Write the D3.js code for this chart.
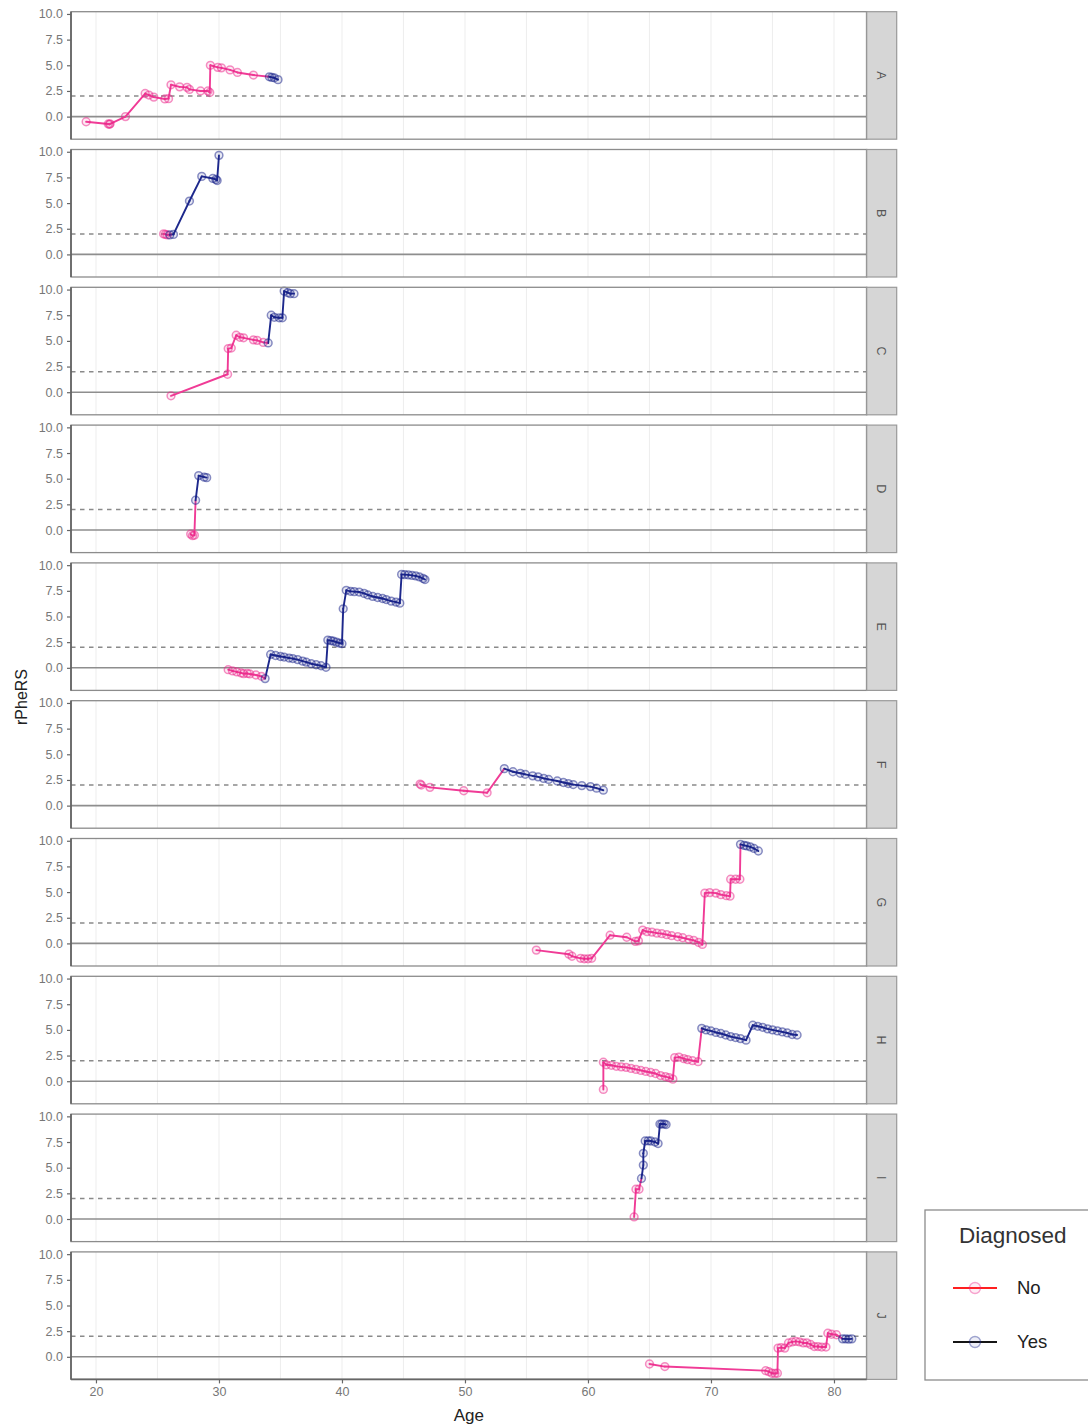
<!DOCTYPE html>
<html>
<head>
<meta charset="utf-8">
<script src="https://cdn.jsdelivr.net/npm/d3@7"></script>
<style>
  body { margin: 0; background: #fff; }
  svg { display: block; font-family: "Liberation Sans", Arial, Helvetica, sans-serif; }
</style>
</head>
<body>
<svg id="chart" width="1088" height="1427"></svg>
<script>
// Facet labels, legend levels and axis ticks
const patients = ["A", "B", "C", "D", "E", "F", "G", "H", "I", "J"];
const statusLevels = ["No", "Yes"];
const xTicks = [20, 30, 40, 50, 60, 70, 80];
const xGrid = [20, 25, 30, 35, 40, 45, 50, 55, 60, 65, 70, 75, 80];
const yTicks = [0, 2.5, 5, 7.5, 10];
const baselineValue = 0;
const thresholdValue = 2;

// Trajectories: [age, rPheRS, diagnosed (0 = No, 1 = Yes)]
const patientA = [
  [19.2,-0.5,0],[21.0,-0.72,0],[21.1,-0.75,0],[21.15,-0.7,0],[22.4,0.0,0],[24.0,2.25,0],[24.3,2.1,0],
  [24.7,1.9,0],[25.6,1.72,0],[25.9,1.75,0],[26.1,3.1,0],[26.8,2.9,0],[27.4,2.85,0],[27.6,2.65,0],
  [28.5,2.5,0],[29.1,2.5,0],[29.25,2.35,0],[29.3,5.0,0],[29.9,4.8,0],[30.2,4.75,0],[30.9,4.55,0],
  [31.5,4.3,0],[32.8,4.05,0],[34.1,3.88,1],[34.3,3.82,1],[34.5,3.78,1],[34.8,3.6,1]
];
const patientB = [
  [25.5,2.0,0],[25.65,1.95,0],[25.8,1.9,0],[26.0,1.9,1],[26.3,1.95,1],[27.6,5.2,1],[28.6,7.6,1],
  [29.5,7.4,1],[29.75,7.3,1],[29.85,7.2,1],[30.0,9.65,1]
];
const patientC = [
  [26.1,-0.35,0],[30.7,1.75,0],[30.75,4.25,0],[31.0,4.3,0],[31.4,5.55,0],[31.7,5.35,0],[32.0,5.3,0],
  [32.8,5.1,0],[33.1,5.05,0],[33.6,4.85,0],[34.0,4.8,1],[34.25,7.5,1],[34.5,7.3,1],[34.9,7.25,1],
  [35.15,7.25,1],[35.3,9.85,1],[35.6,9.7,1],[35.8,9.6,1],[36.1,9.6,1]
];
const patientD = [
  [27.7,-0.4,0],[27.85,-0.55,0],[28.0,-0.5,0],[28.1,2.9,1],[28.35,5.3,1],[28.8,5.15,1],[29.0,5.1,1]
];
const patientE = [
  [30.75,-0.18,0],[31.1,-0.3,0],[31.45,-0.4,0],[31.8,-0.5,0],[32.0,-0.57,0],[32.3,-0.55,0],[32.5,-0.6,0],
  [33.0,-0.7,0],[33.45,-0.83,0],[33.75,-1.05,1],[34.2,1.3,1],[34.6,1.2,1],[35.0,1.1,1],[35.3,1.05,1],
  [35.7,0.95,1],[36.0,0.9,1],[36.4,0.8,1],[36.8,0.65,1],[37.1,0.55,1],[37.5,0.4,1],[37.9,0.3,1],
  [38.3,0.2,1],[38.7,0.05,1],[38.85,2.7,1],[39.1,2.65,1],[39.3,2.6,1],[39.55,2.5,1],[39.8,2.4,1],
  [40.0,2.35,1],[40.1,5.75,1],[40.35,7.55,1],[40.7,7.45,1],[41.0,7.42,1],[41.4,7.38,1],[41.8,7.25,1],
  [42.1,7.1,1],[42.5,6.95,1],[42.9,6.85,1],[43.3,6.75,1],[43.6,6.65,1],[44.0,6.5,1],[44.4,6.4,1],
  [44.7,6.3,1],[44.85,9.1,1],[45.1,9.08,1],[45.4,9.05,1],[45.7,9.0,1],[46.0,8.95,1],[46.3,8.85,1],
  [46.6,8.7,1],[46.75,8.6,1]
];
const patientF = [
  [46.35,2.1,0],[46.45,2.0,0],[47.15,1.78,0],[49.9,1.45,0],[51.8,1.25,0],[53.2,3.6,1],[53.9,3.3,1],
  [54.5,3.15,1],[54.9,3.05,1],[55.5,2.9,1],[55.95,2.8,1],[56.4,2.65,1],[56.8,2.55,1],[57.5,2.4,1],
  [58.0,2.25,1],[58.4,2.15,1],[58.8,2.05,1],[59.5,1.95,1],[60.2,1.85,1],[60.7,1.7,1],[61.25,1.5,1]
];
const patientG = [
  [55.8,-0.65,0],[58.45,-1.05,0],[58.7,-1.25,0],[59.4,-1.45,0],[59.7,-1.5,0],[60.0,-1.5,0],[60.3,-1.45,0],
  [61.8,0.8,0],[63.15,0.6,0],[63.85,0.2,0],[64.1,0.25,0],[64.45,1.3,0],[64.8,1.15,0],[65.2,1.1,0],
  [65.6,1.0,0],[66.0,0.95,0],[66.4,0.85,0],[66.8,0.75,0],[67.3,0.65,0],[67.7,0.55,0],[68.2,0.4,0],
  [68.6,0.3,0],[69.0,0.1,0],[69.3,-0.1,0],[69.5,4.9,0],[69.9,4.95,0],[70.4,4.9,0],[70.8,4.75,0],
  [71.25,4.65,0],[71.55,4.6,0],[71.6,6.25,0],[72.0,6.25,0],[72.35,6.25,0],[72.4,9.65,1],[72.7,9.55,1],
  [72.9,9.5,1],[73.2,9.4,1],[73.5,9.25,1],[73.85,9.0,1]
];
const patientH = [
  [61.25,-0.8,0],[61.25,1.85,0],[61.5,1.6,0],[61.9,1.55,0],[62.3,1.45,0],[62.7,1.4,0],[63.1,1.35,0],
  [63.5,1.25,0],[63.9,1.15,0],[64.3,1.05,0],[64.7,0.95,0],[65.1,0.85,0],[65.5,0.75,0],[65.9,0.55,0],
  [66.3,0.45,0],[66.6,0.35,0],[66.9,0.2,0],[67.05,2.3,0],[67.4,2.35,0],[67.8,2.2,0],[68.1,2.1,0],
  [68.5,2.0,0],[68.95,1.9,0],[69.25,5.15,1],[69.6,5.0,1],[70.0,4.9,1],[70.4,4.75,1],[70.8,4.65,1],
  [71.2,4.5,1],[71.6,4.35,1],[72.0,4.25,1],[72.4,4.15,1],[72.85,4.0,1],[73.4,5.45,1],[73.8,5.35,1],
  [74.2,5.25,1],[74.6,5.1,1],[75.0,5.0,1],[75.4,4.9,1],[75.8,4.8,1],[76.2,4.7,1],[76.6,4.55,1],
  [77.0,4.5,1]
];
const patientI = [
  [63.75,0.2,0],[63.9,2.9,0],[64.15,2.9,0],[64.35,3.95,1],[64.5,5.25,1],[64.5,6.4,1],[64.65,7.6,1],
  [64.9,7.62,1],[65.1,7.6,1],[65.45,7.5,1],[65.7,7.35,1],[65.85,9.25,1],[66.0,9.25,1],[66.2,9.25,1],
  [66.35,9.2,1]
];
const patientJ = [
  [65.0,-0.7,0],[66.25,-0.95,0],[74.45,-1.35,0],[74.7,-1.45,0],[74.95,-1.6,0],[75.2,-1.62,0],[75.4,-1.6,0],
  [75.45,0.85,0],[75.7,0.9,0],[76.0,0.85,0],[76.3,1.35,0],[76.6,1.45,0],[76.9,1.5,0],[77.2,1.45,0],
  [77.5,1.35,0],[77.8,1.35,0],[78.1,1.2,0],[78.4,1.0,0],[78.7,1.0,0],[79.0,0.95,0],[79.35,0.95,0],
  [79.5,2.3,0],[79.8,2.2,0],[80.2,2.15,0],[80.7,1.75,1],[80.95,1.75,1],[81.2,1.72,1],[81.45,1.75,1]
];

const trajectories = {
  A: patientA, B: patientB, C: patientC, D: patientD, E: patientE,
  F: patientF, G: patientG, H: patientH, I: patientI, J: patientJ
};

// Layout
const plotLeft = 71, plotRight = 866.7, stripW = 30;
const firstTop = 11.7, panelH = 127.5, panelStep = 137.8;

const pointColor = ["#ec2489", "#17228a"];
const lineColor = ["#f03b96", "#1d288c"];
const legendLine = ["#ff2020", "#151515"];

const svg = d3.select("#chart");

const x = d3.scaleLinear().domain([17.97, 82.66]).range([plotLeft, plotRight]);
const y = d3.scaleLinear().domain([-2.2, 10.22]).range([panelH, 0]);

patients.forEach((id, i) => {
  const top = firstTop + i * panelStep;
  const g = svg.append("g").attr("transform", `translate(0,${top})`);

  g.append("rect")
    .attr("x", plotLeft).attr("y", 0)
    .attr("width", plotRight - plotLeft).attr("height", panelH)
    .attr("fill", "#fff");

  // vertical grid
  g.selectAll("line.grid").data(xGrid).join("line")
    .attr("class", "grid")
    .attr("x1", d => x(d)).attr("x2", d => x(d))
    .attr("y1", 0).attr("y2", panelH)
    .attr("stroke", "#ebebeb").attr("stroke-width", 0.9);

  // reference lines
  g.append("line")
    .attr("x1", plotLeft).attr("x2", plotRight)
    .attr("y1", y(baselineValue)).attr("y2", y(baselineValue))
    .attr("stroke", "#8e8e8e").attr("stroke-width", 1.6);
  g.append("line")
    .attr("x1", plotLeft).attr("x2", plotRight)
    .attr("y1", y(thresholdValue)).attr("y2", y(thresholdValue))
    .attr("stroke", "#8a8a8a").attr("stroke-width", 1.5)
    .attr("stroke-dasharray", "4.5,4.5");

  // trajectory segments, coloured by the status at their start
  const pts = trajectories[id];
  const segs = d3.pairs(pts);
  g.selectAll("line.seg").data(segs).join("line")
    .attr("class", "seg")
    .attr("x1", d => x(d[0][0])).attr("y1", d => y(d[0][1]))
    .attr("x2", d => x(d[1][0])).attr("y2", d => y(d[1][1]))
    .attr("stroke", d => lineColor[d[0][2]])
    .attr("stroke-width", 1.9)
    .attr("stroke-linecap", "round");

  // observations as translucent open circles
  g.selectAll("circle.pt").data(pts).join("circle")
    .attr("class", "pt")
    .attr("cx", d => x(d[0])).attr("cy", d => y(d[1]))
    .attr("r", 3.9)
    .attr("fill", d => pointColor[d[2]]).attr("fill-opacity", 0.1)
    .attr("stroke", d => pointColor[d[2]]).attr("stroke-opacity", 0.5)
    .attr("stroke-width", 1.5);

  // panel border
  g.append("rect")
    .attr("x", plotLeft).attr("y", 0)
    .attr("width", plotRight - plotLeft).attr("height", panelH)
    .attr("fill", "none").attr("stroke", "#8c8c8c").attr("stroke-width", 1.3);
  g.append("line")
    .attr("x1", plotLeft).attr("x2", plotLeft).attr("y1", 0).attr("y2", panelH)
    .attr("stroke", "#5e5e5e").attr("stroke-width", 1.6);
  g.append("line")
    .attr("x1", plotRight).attr("x2", plotRight).attr("y1", 0).attr("y2", panelH)
    .attr("stroke", "#5e5e5e").attr("stroke-width", 1.6);

  // y axis
  const ya = g.append("g").attr("transform", `translate(${plotLeft},0)`)
    .call(d3.axisLeft(y).tickValues(yTicks).tickFormat(d3.format(".1f")).tickSize(4).tickPadding(4));
  ya.select(".domain").remove();
  ya.selectAll(".tick line").attr("stroke", "#666").attr("stroke-width", 1.2);
  ya.selectAll(".tick text").attr("fill", "#777").style("font-size", "12.5px")
    .style("font-family", "'Liberation Sans', Arial, sans-serif");

  // facet strip
  g.append("rect")
    .attr("x", plotRight).attr("y", 0)
    .attr("width", stripW).attr("height", panelH)
    .attr("fill", "#d6d6d6").attr("stroke", "#9a9a9a").attr("stroke-width", 1.2);
  g.append("text")
    .attr("transform", `translate(${plotRight + stripW / 2},${panelH / 2}) rotate(90)`)
    .attr("text-anchor", "middle").attr("dy", "0.35em")
    .attr("fill", "#555").style("font-size", "12.5px")
    .text(id);

  // x axis under the last panel
  if (i === patients.length - 1) {
    const xa = g.append("g").attr("transform", `translate(0,${panelH})`)
      .call(d3.axisBottom(x).tickValues(xTicks).tickFormat(d3.format("d")).tickSize(4).tickPadding(4));
    xa.select(".domain").remove();
    xa.selectAll(".tick line").attr("stroke", "#666").attr("stroke-width", 1.2);
    xa.selectAll(".tick text").attr("fill", "#777").style("font-size", "12.5px")
      .style("font-family", "'Liberation Sans', Arial, sans-serif");
    g.append("line")
      .attr("x1", plotLeft).attr("x2", plotRight).attr("y1", panelH).attr("y2", panelH)
      .attr("stroke", "#666").attr("stroke-width", 1.6);
  }
});

// axis titles
svg.append("text")
  .attr("x", (plotLeft + plotRight) / 2).attr("y", 1421)
  .attr("text-anchor", "middle").attr("fill", "#222")
  .style("font-size", "17px").text("Age");
svg.append("text")
  .attr("transform", "translate(27,697) rotate(-90)")
  .attr("text-anchor", "middle").attr("fill", "#222")
  .style("font-size", "16px").text("rPheRS");

// legend
const lg = svg.append("g").attr("transform", "translate(925,1210)");
lg.append("rect").attr("x", 0).attr("y", 0).attr("width", 200).attr("height", 170)
  .attr("fill", "#fff").attr("stroke", "#8c8c8c").attr("stroke-width", 1.3);
lg.append("text").attr("x", 34).attr("y", 33).attr("fill", "#333")
  .style("font-size", "22.5px").text("Diagnosed");
const items = lg.selectAll("g.item").data(statusLevels).join("g")
  .attr("class", "item")
  .attr("transform", (d, k) => `translate(0,${78 + k * 54})`);
items.append("line").attr("x1", 28).attr("x2", 72).attr("y1", 0).attr("y2", 0)
  .attr("stroke", (d, k) => legendLine[k]).attr("stroke-width", 2.2);
items.append("circle").attr("cx", 50).attr("cy", 0).attr("r", 5.5)
  .attr("fill", (d, k) => pointColor[k]).attr("fill-opacity", 0.08)
  .attr("stroke", (d, k) => pointColor[k]).attr("stroke-opacity", 0.4).attr("stroke-width", 1.4);
items.append("text").attr("x", 92).attr("y", 0).attr("dy", "0.35em")
  .attr("fill", "#222").style("font-size", "18.5px").text(d => d);
</script>
</body>
</html>
